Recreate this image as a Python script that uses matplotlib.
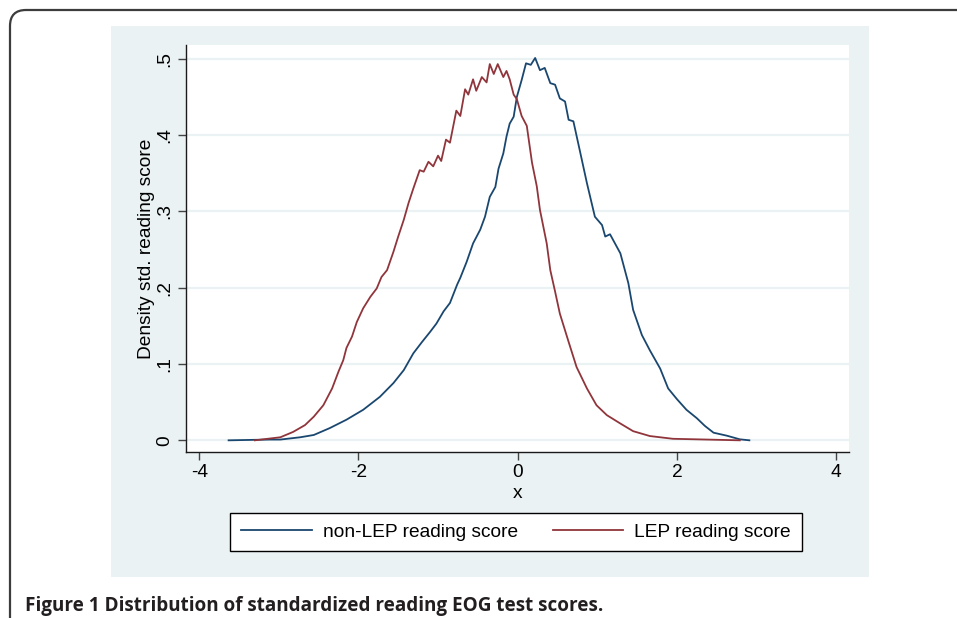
"""
Kernel density of standardized reading EOG scores, LEP vs non-LEP students.
Stata s2color look, with the journal page frame and caption.
"""

import matplotlib
matplotlib.use('Agg')
import matplotlib.pyplot as plt
import matplotlib.patches as mpatches
import matplotlib.transforms as mtransforms
from matplotlib.lines import Line2D

# Density curves
nonlep_x = [-3.63, -3.11, -2.98, -2.73, -2.56, -2.36, -2.15, -1.94, -1.73,
            -1.56, -1.43, -1.31, -1.20, -1.10, -1.02, -0.93, -0.85, -0.76,
            -0.72, -0.64, -0.56, -0.47, -0.41, -0.35, -0.28, -0.24, -0.18,
            -0.14, -0.10, -0.05, -0.01, 0.05, 0.105, 0.165, 0.22, 0.28, 0.34,
            0.41, 0.47, 0.53, 0.595, 0.64, 0.70, 0.78, 0.87, 0.97, 1.06, 1.10,
            1.16, 1.29, 1.39, 1.45, 1.56, 1.66, 1.79, 1.89, 2.00, 2.12, 2.25,
            2.35, 2.46, 2.63, 2.79, 2.91]
nonlep_y = [0.0, 0.001, 0.001, 0.004, 0.007, 0.016, 0.027, 0.040, 0.057,
            0.075, 0.092, 0.114, 0.129, 0.142, 0.153, 0.169, 0.180, 0.204,
            0.213, 0.234, 0.258, 0.276, 0.293, 0.319, 0.332, 0.356, 0.376,
            0.398, 0.415, 0.424, 0.450, 0.472, 0.494, 0.492, 0.501, 0.485,
            0.488, 0.468, 0.466, 0.448, 0.444, 0.420, 0.418, 0.380, 0.337,
            0.293, 0.282, 0.267, 0.270, 0.245, 0.206, 0.171, 0.138, 0.118,
            0.094, 0.068, 0.054, 0.040, 0.029, 0.019, 0.010, 0.006, 0.0013,
            0.0]

lep_x = [-3.30, -2.98, -2.82, -2.67, -2.56, -2.44, -2.33, -2.25, -2.19, -2.15,
         -2.08, -2.02, -1.94, -1.85, -1.77, -1.71, -1.64, -1.56, -1.50, -1.43,
         -1.37, -1.31, -1.23, -1.18, -1.12, -1.06, -1.00, -0.96, -0.90, -0.85,
         -0.77, -0.72, -0.66, -0.62, -0.56, -0.52, -0.45, -0.39, -0.35, -0.30,
         -0.25, -0.18, -0.14, -0.10, -0.05, -0.01, 0.05, 0.115, 0.18, 0.24,
         0.28, 0.365, 0.41, 0.47, 0.53, 0.64, 0.74, 0.87, 0.99, 1.12, 1.29,
         1.45, 1.66, 1.95, 2.37, 2.79]
lep_y = [0.0, 0.004, 0.011, 0.020, 0.031, 0.046, 0.068, 0.090, 0.105, 0.121,
         0.136, 0.155, 0.173, 0.188, 0.199, 0.214, 0.223, 0.247, 0.267, 0.289,
         0.311, 0.330, 0.354, 0.352, 0.365, 0.359, 0.373, 0.366, 0.394, 0.390,
         0.432, 0.425, 0.460, 0.453, 0.473, 0.458, 0.476, 0.469, 0.493, 0.480,
         0.493, 0.476, 0.484, 0.473, 0.453, 0.447, 0.425, 0.412, 0.364, 0.333,
         0.302, 0.258, 0.223, 0.195, 0.166, 0.129, 0.096, 0.068, 0.046, 0.033,
         0.022, 0.012, 0.0056, 0.002, 0.001, 0.0]

x_ticks = [-4, -2, 0, 2, 4]
y_ticks = [0, 0.1, 0.2, 0.3, 0.4, 0.5]
y_ticklabels = ['0', '.1', '.2', '.3', '.4', '.5']
series_labels = ['non-LEP reading score', 'LEP reading score']
caption = 'Figure 1 Distribution of standardized reading EOG test scores.'

W, H = 957, 618
NAVY = '#1a476f'
MAROON = '#90353b'
PANEL = '#eaf2f3'
FS = 13.8
LW = 1.3

plt.rcParams['font.family'] = ['Liberation Sans', 'DejaVu Sans']

fig = plt.figure(figsize=(W / 100, H / 100), dpi=100)
fig.patch.set_facecolor('white')


def fx(px):
    return px / W


def fy(py):
    return 1 - py / H


# Stata graph region (light bluish gray)
fig.patches.append(mpatches.Rectangle(
    (fx(111), fy(577)), fx(869) - fx(111), fy(26) - fy(577),
    transform=fig.transFigure, facecolor=PANEL, edgecolor='none', zorder=-2))

# Page frame with rounded corner (pixel coordinates)
fig.patches.append(mpatches.FancyBboxPatch(
    (10, -60), 1100, H - 10 + 60,
    boxstyle='round,pad=0,rounding_size=16',
    transform=mtransforms.IdentityTransform(),
    facecolor='none', edgecolor='#3c3c3c', linewidth=1.6, zorder=-2))

ax = fig.add_axes([fx(186), fy(452.3), fx(849.3) - fx(186),
                   fy(45) - fy(452.3)])
ax.set_zorder(2)
ax.set_facecolor('white')

ax.plot(nonlep_x, nonlep_y, color=NAVY, linewidth=LW, zorder=3)
ax.plot(lep_x, lep_y, color=MAROON, linewidth=LW, zorder=3)

ax.set_xlim(-4.165, 4.165)
ax.set_ylim(-0.0157, 0.518)

ax.set_xticks(x_ticks)
ax.set_xticklabels([str(t) for t in x_ticks])
ax.set_yticks(y_ticks)
ax.set_yticklabels(y_ticklabels, rotation=90, va='center')

ax.grid(axis='y', color=PANEL, linewidth=1.6, zorder=1)
ax.set_axisbelow(True)

for side in ('top', 'right'):
    ax.spines[side].set_visible(False)
for side in ('left', 'bottom'):
    ax.spines[side].set_color('#1a1a1a')
    ax.spines[side].set_linewidth(1.0)

ax.tick_params(axis='both', direction='out', length=5.5, width=1.0,
               color='#444444', labelsize=FS, labelcolor='black')
ax.tick_params(axis='y', pad=3.8)
ax.tick_params(axis='x', pad=3)

ax.set_xlabel('x', fontsize=FS, labelpad=3)
ax.set_ylabel('Density std. reading score', fontsize=FS, labelpad=0.5)

handles = [Line2D([], [], color=NAVY, linewidth=LW),
           Line2D([], [], color=MAROON, linewidth=LW)]
leg = fig.legend(handles, series_labels, loc='center',
                 bbox_to_anchor=(fx(516), fy(532)), ncol=2,
                 fontsize=FS, frameon=True, fancybox=False,
                 handlelength=3.7, handletextpad=0.57, columnspacing=1.8,
                 borderpad=0.55, borderaxespad=0)
leg.get_frame().set_edgecolor('black')
leg.get_frame().set_linewidth(1.0)
leg.get_frame().set_facecolor('white')
leg.get_frame().set_alpha(1)

fig.text(fx(25), fy(611), caption, fontsize=13.6, fontweight='bold',
         family=['Open Sans', 'DejaVu Sans'], color='#231f20',
         ha='left', va='baseline')

fig.savefig('out.png', dpi=100, facecolor='white')
